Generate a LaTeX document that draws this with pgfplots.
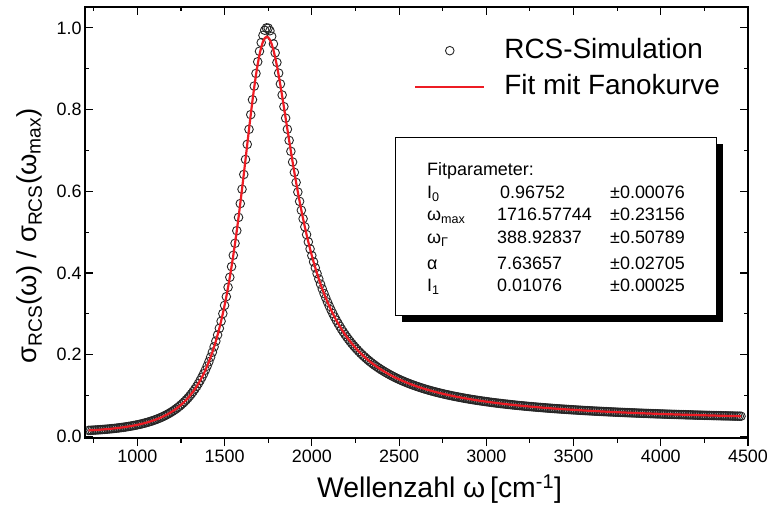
\documentclass[border=0pt]{standalone}
\usepackage{fontspec}
\setmainfont{Liberation Sans}
\usepackage{pgfplots}
\pgfplotsset{compat=1.18}
\usepackage{pgfplotstable}
\definecolor{fitred}{RGB}{237,28,36}
\pgfplotsset{
  simlegend/.style={legend image code/.code={\path (0bp,0bp) (69bp,0bp); \draw[##1] plot coordinates {(34.5bp,0bp)};}},
  fitlegend/.style={legend image code/.code={\draw[##1] (0bp,0bp) -- (69bp,0bp);}},
}
\pgfplotstableread{
w sim fit
720 0.01454 0.01454
730 0.01477 0.01477
740 0.01501 0.01501
750 0.01527 0.01527
760 0.01554 0.01554
770 0.01582 0.01582
780 0.01612 0.01612
790 0.01643 0.01643
800 0.01676 0.01676
810 0.01711 0.01711
820 0.01747 0.01747
830 0.01785 0.01785
840 0.01825 0.01825
850 0.01867 0.01867
860 0.01911 0.01911
870 0.01957 0.01957
880 0.02006 0.02006
890 0.02056 0.02056
900 0.02111 0.02111
910 0.02166 0.02166
920 0.02226 0.02226
930 0.02288 0.02288
940 0.02354 0.02354
950 0.02422 0.02422
960 0.02495 0.02495
970 0.02570 0.02570
980 0.02651 0.02651
990 0.02734 0.02734
1000 0.02823 0.02823
1010 0.02916 0.02916
1020 0.03015 0.03015
1030 0.03118 0.03118
1040 0.03227 0.03227
1050 0.03342 0.03342
1060 0.03464 0.03464
1070 0.03591 0.03591
1080 0.03727 0.03727
1090 0.03868 0.03868
1100 0.04019 0.04019
1110 0.04178 0.04178
1120 0.04346 0.04346
1130 0.04523 0.04523
1140 0.04712 0.04712
1150 0.04910 0.04910
1160 0.05122 0.05122
1170 0.05344 0.05344
1180 0.05581 0.05581
1190 0.05831 0.05831
1200 0.06098 0.06098
1210 0.06379 0.06379
1220 0.06680 0.06680
1230 0.06998 0.06998
1240 0.07338 0.07338
1250 0.07697 0.07697
1260 0.08082 0.08082
1270 0.08489 0.08489
1280 0.08926 0.08926
1290 0.09390 0.09390
1300 0.09887 0.09887
1310 0.10415 0.10415
1320 0.10982 0.10982
1330 0.11585 0.11585
1340 0.12234 0.12234
1350 0.12925 0.12925
1360 0.13668 0.13668
1370 0.14461 0.14461
1380 0.15315 0.15315
1390 0.16227 0.16227
1400 0.17210 0.17210
1410 0.18261 0.18261
1420 0.19395 0.19395
1430 0.20607 0.20607
1440 0.21916 0.21916
1450 0.23316 0.23316
1460 0.24826 0.24826
1470 0.26443 0.26443
1480 0.28186 0.28186
1490 0.30050 0.30050
1500 0.32055 0.32055
1510 0.34196 0.34196
1520 0.36494 0.36494
1530 0.38940 0.38940
1540 0.41553 0.41553
1550 0.44321 0.44321
1560 0.47260 0.47260
1570 0.50349 0.50349
1580 0.53602 0.53602
1590 0.56984 0.56984
1600 0.60499 0.60499
1610 0.64101 0.64101
1620 0.67780 0.67780
1630 0.71474 0.71474
1640 0.75158 0.75158
1650 0.78753 0.78753
1660 0.8239 0.82224
1670 0.8574 0.85480
1680 0.8884 0.88483
1690 0.9169 0.91139
1700 0.9426 0.93420
1710 0.9639 0.95248
1720 0.9816 0.96613
1730 0.9941 0.97465
1740 0.9998 0.97825
1750 0.9994 0.97673
1760 0.9929 0.97062
1770 0.9792 0.96000
1780 0.9607 0.94559
1790 0.9388 0.92766
1800 0.9152 0.90699
1810 0.8892 0.88391
1820 0.8626 0.85919
1830 0.8356 0.83309
1840 0.8071 0.80629
1850 0.77897 0.77897
1860 0.75165 0.75165
1870 0.72445 0.72445
1880 0.69776 0.69776
1890 0.67158 0.67158
1900 0.64621 0.64621
1910 0.62160 0.62160
1920 0.59797 0.59797
1930 0.57520 0.57520
1940 0.55345 0.55345
1950 0.53263 0.53263
1960 0.51281 0.51281
1970 0.49388 0.49388
1980 0.47592 0.47592
1990 0.45880 0.45880
2000 0.44257 0.44257
2010 0.42712 0.42712
2020 0.41248 0.41248
2030 0.39855 0.39855
2040 0.38536 0.38536
2050 0.37280 0.37280
2060 0.36090 0.36090
2070 0.34957 0.34957
2080 0.33883 0.33883
2090 0.32859 0.32859
2100 0.31887 0.31887
2110 0.30961 0.30961
2120 0.30080 0.30080
2130 0.29241 0.29241
2140 0.28441 0.28441
2150 0.27679 0.27679
2160 0.26952 0.26952
2170 0.26257 0.26257
2180 0.25594 0.25594
2190 0.24961 0.24961
2200 0.24355 0.24355
2210 0.23776 0.23776
2220 0.23221 0.23221
2230 0.22689 0.22689
2240 0.22180 0.22180
2250 0.21692 0.21692
2260 0.21224 0.21224
2270 0.20774 0.20774
2280 0.20343 0.20343
2290 0.19928 0.19928
2300 0.19529 0.19529
2310 0.19146 0.19146
2320 0.18777 0.18777
2330 0.18422 0.18422
2340 0.18080 0.18080
2350 0.17750 0.17750
2360 0.17432 0.17432
2370 0.17125 0.17125
2380 0.16830 0.16830
2390 0.16544 0.16544
2400 0.16268 0.16268
2410 0.16002 0.16002
2420 0.15744 0.15744
2430 0.15494 0.15494
2440 0.15253 0.15253
2450 0.15020 0.15020
2460 0.14794 0.14794
2470 0.14576 0.14576
2480 0.14363 0.14363
2490 0.14158 0.14158
2500 0.13959 0.13959
2510 0.13765 0.13765
2520 0.13578 0.13578
2530 0.13399 0.13399
2540 0.13219 0.13219
2550 0.13050 0.13050
2560 0.12881 0.12881
2570 0.12721 0.12721
2580 0.12561 0.12561
2590 0.12410 0.12410
2600 0.12259 0.12259
2610 0.12116 0.12116
2620 0.11973 0.11973
2630 0.11837 0.11837
2640 0.11701 0.11701
2650 0.11573 0.11573
2660 0.11444 0.11444
2670 0.11322 0.11322
2680 0.11199 0.11199
2690 0.11083 0.11083
2700 0.10967 0.10967
2710 0.10856 0.10856
2720 0.10745 0.10745
2730 0.10640 0.10640
2740 0.10534 0.10534
2750 0.10434 0.10434
2760 0.10333 0.10333
2770 0.10237 0.10237
2780 0.10141 0.10141
2790 0.10050 0.10050
2800 0.09958 0.09958
2810 0.09870 0.09870
2820 0.09782 0.09782
2830 0.09698 0.09698
2840 0.09614 0.09614
2850 0.09534 0.09534
2860 0.09454 0.09454
2870 0.09377 0.09377
2880 0.09299 0.09299
2890 0.09226 0.09226
2900 0.09152 0.09152
2910 0.09081 0.09081
2920 0.09010 0.09010
2930 0.08942 0.08942
2940 0.08874 0.08874
2950 0.08809 0.08809
2960 0.08743 0.08743
2970 0.08680 0.08680
2980 0.08617 0.08617
2990 0.08557 0.08557
3000 0.08496 0.08496
3010 0.08438 0.08438
3020 0.08379 0.08379
3030 0.08323 0.08323
3040 0.08267 0.08267
3050 0.08213 0.08213
3060 0.08158 0.08158
3070 0.08106 0.08106
3080 0.08054 0.08054
3090 0.08004 0.08004
3100 0.07953 0.07953
3110 0.07905 0.07905
3120 0.07856 0.07856
3130 0.07809 0.07809
3140 0.07762 0.07762
3150 0.07717 0.07717
3160 0.07671 0.07671
3170 0.07627 0.07627
3180 0.07583 0.07583
3190 0.07541 0.07541
3200 0.07498 0.07498
3210 0.07457 0.07457
3220 0.07415 0.07415
3230 0.07375 0.07375
3240 0.07335 0.07335
3250 0.07297 0.07297
3260 0.07258 0.07258
3270 0.07221 0.07221
3280 0.07183 0.07183
3290 0.07147 0.07147
3300 0.07111 0.07111
3310 0.07076 0.07076
3320 0.07040 0.07040
3330 0.07006 0.07006
3340 0.06972 0.06972
3350 0.06939 0.06939
3360 0.06906 0.06906
3370 0.06874 0.06874
3380 0.06841 0.06841
3390 0.06810 0.06810
3400 0.06779 0.06779
3410 0.06749 0.06749
3420 0.06718 0.06718
3430 0.06688 0.06688
3440 0.06658 0.06658
3450 0.06630 0.06630
3460 0.06601 0.06601
3470 0.06573 0.06573
3480 0.06545 0.06545
3490 0.06518 0.06518
3500 0.06490 0.06490
3510 0.06464 0.06464
3520 0.06437 0.06437
3530 0.06412 0.06412
3540 0.06386 0.06386
3550 0.06361 0.06361
3560 0.06335 0.06335
3570 0.06311 0.06311
3580 0.06286 0.06286
3590 0.06263 0.06263
3600 0.06239 0.06239
3610 0.06216 0.06216
3620 0.06192 0.06192
3630 0.06170 0.06170
3640 0.06147 0.06147
3650 0.06125 0.06125
3660 0.06102 0.06102
3670 0.06081 0.06081
3680 0.06059 0.06059
3690 0.06038 0.06038
3700 0.06017 0.06017
3710 0.05997 0.05997
3720 0.05976 0.05976
3730 0.05956 0.05956
3740 0.05935 0.05935
3750 0.05916 0.05916
3760 0.05896 0.05896
3770 0.05877 0.05877
3780 0.05858 0.05858
3790 0.05839 0.05839
3800 0.05820 0.05820
3810 0.05802 0.05802
3820 0.05783 0.05783
3830 0.05765 0.05765
3840 0.05747 0.05747
3850 0.05730 0.05730
3860 0.05712 0.05712
3870 0.05695 0.05695
3880 0.05678 0.05678
3890 0.05662 0.05662
3900 0.05645 0.05645
3910 0.05629 0.05629
3920 0.05612 0.05612
3930 0.05596 0.05596
3940 0.05579 0.05579
3950 0.05564 0.05564
3960 0.05548 0.05548
3970 0.05533 0.05533
3980 0.05517 0.05517
3990 0.05502 0.05502
4000 0.05487 0.05487
4010 0.05472 0.05472
4020 0.05457 0.05457
4030 0.05443 0.05443
4040 0.05428 0.05428
4050 0.05414 0.05414
4060 0.05400 0.05400
4070 0.05386 0.05386
4080 0.05372 0.05372
4090 0.05359 0.05359
4100 0.05345 0.05345
4110 0.05332 0.05332
4120 0.05318 0.05318
4130 0.05305 0.05305
4140 0.05292 0.05292
4150 0.05279 0.05279
4160 0.05266 0.05266
4170 0.05254 0.05254
4180 0.05241 0.05241
4190 0.05229 0.05229
4200 0.05216 0.05216
4210 0.05204 0.05204
4220 0.05192 0.05192
4230 0.05180 0.05180
4240 0.05168 0.05168
4250 0.05156 0.05156
4260 0.05144 0.05144
4270 0.05133 0.05133
4280 0.05121 0.05121
4290 0.05110 0.05110
4300 0.05099 0.05099
4310 0.05088 0.05088
4320 0.05077 0.05077
4330 0.05066 0.05066
4340 0.05055 0.05055
4350 0.05044 0.05044
4360 0.05033 0.05033
4370 0.05023 0.05023
4380 0.05012 0.05012
4390 0.05002 0.05002
4400 0.04992 0.04992
4410 0.04982 0.04982
4420 0.04971 0.04971
4430 0.04961 0.04961
4440 0.04951 0.04951
4450 0.04942 0.04942
4460 0.04932 0.04932
}\datatable

\begin{document}
\begin{tikzpicture}
\pgfplotsset{
  commonaxis/.style={
    at={(0,0)}, anchor=south west,
    scale only axis, width=663bp, height=431bp,
    xmin=700, xmax=4500, ymin=-0.004, ymax=1.051,
    axis line style={line width=1.2bp},
    every tick/.style={black, line width=1.1bp},
    major tick length=8bp, minor tick length=4.5bp,
    xtick={1000,1500,2000,2500,3000,3500,4000,4500},
    minor xtick={750,1250,1750,2250,2750,3250,3750,4250},
  }
}
\begin{axis}[
  commonaxis,
  clip marker paths=true,
  ytick={0,0.2,0.4,0.6,0.8,1.0},
  minor ytick={0.1,0.3,0.5,0.7,0.9},
  xtick pos=left, ytick pos=both,
  xtick align=outside, ytick align=inside,
  scaled x ticks=false,
  /pgf/number format/assume math mode=true,
  tick label style={font=\fontsize{18}{21}\selectfont},
  xticklabel style={/pgf/number format/1000 sep={}},
  yticklabel style={/pgf/number format/.cd, fixed, fixed zerofill, precision=1},
  xlabel={Wellenzahl ω\,[cm\textsuperscript{-1}]},
  xlabel style={font=\fontsize{28.5}{32}\selectfont, at={(axis description cs:0.5347,-0.137)}, anchor=base},
  ylabel={σ\textsubscript{RCS}(ω) / σ\textsubscript{RCS}(ω\textsubscript{max})},
  ylabel style={font=\fontsize{27.5}{31}\selectfont, at={(axis description cs:-0.0724,0.469)}, anchor=base},
  legend style={at={(axis description cs:0.4962,0.9304)}, anchor=north west, draw=none, fill=none,
    font=\fontsize{28}{32}\selectfont, inner sep=0pt,
    nodes={inner sep=0pt, text height=21bp, text depth=6bp},
    row sep=9bp, column sep=19bp},
  legend cell align=left,
]
\addplot[only marks, mark=o, mark size=4.3bp, mark options={line width=0.9bp, black!85}, simlegend]
  table[x=w, y=sim] {\datatable};
\addlegendentry{RCS-Simulation}
\addplot[fitred, line width=2.2bp, no marks, fitlegend]
  table[x=w, y=fit] {\datatable};
\addlegendentry{Fit mit Fanokurve}
\end{axis}
\begin{axis}[
  commonaxis,
  xtick pos=right, xtick align=inside,
  xticklabels={}, ytick=\empty,
]
\end{axis}
\fill[black] (317bp,116bp) rectangle (638bp,294bp);
\draw[fill=white, line width=0.8bp] (310bp,123bp) rectangle (631bp,301bp);
\begin{scope}[every node/.style={anchor=base west, inner sep=0pt, font=\fontsize{18}{21}\selectfont}]
\node at (342bp,262bp) {Fitparameter:};
\node at (342bp,239.7bp) {I\textsubscript{0}};
\node at (415bp,239.7bp) {0.96752};
\node at (525bp,239.7bp) {±0.00076};
\node at (342bp,217.3bp) {ω\textsubscript{max}};
\node at (412bp,217.3bp) {1716.57744};
\node at (525bp,217.3bp) {±0.23156};
\node at (342bp,194.7bp) {ω\textsubscript{Γ}};
\node at (412bp,194.7bp) {388.92837};
\node at (525bp,194.7bp) {±0.50789};
\node at (342bp,168bp) {α};
\node at (412bp,168bp) {7.63657};
\node at (525bp,168bp) {±0.02705};
\node at (342bp,146.3bp) {I\textsubscript{1}};
\node at (412bp,146.3bp) {0.01076};
\node at (525bp,146.3bp) {±0.00025};
\end{scope}
\pgfresetboundingbox
\path[use as bounding box] (-85bp,-75bp) rectangle (682bp,438bp);
\end{tikzpicture}
\end{document}
